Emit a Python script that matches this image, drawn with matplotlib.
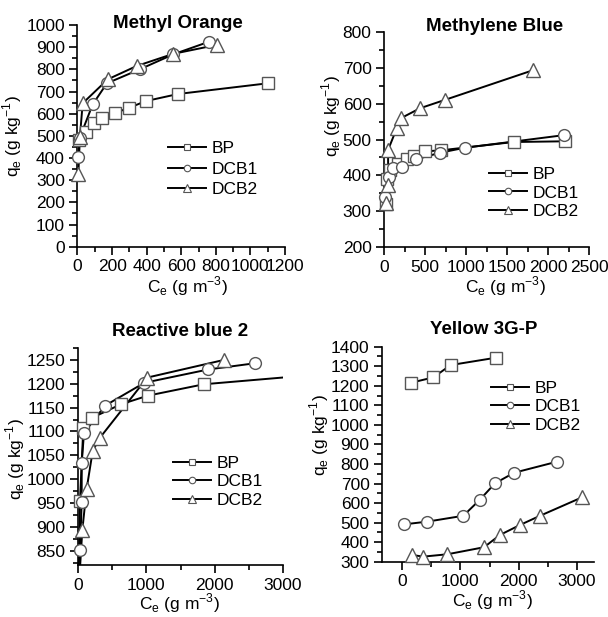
import numpy as np
import matplotlib
matplotlib.use("Agg")
import matplotlib.pyplot as plt
from matplotlib.ticker import MultipleLocator

plt.rcParams['font.family'] = ['Liberation Sans', 'DejaVu Sans']
plt.rcParams['mathtext.fontset'] = 'custom'
plt.rcParams['mathtext.rm'] = 'Liberation Sans'

series_names = ["BP", "DCB1", "DCB2"]

# Methyl Orange
mo_bp_x = [10, 49, 97, 140, 217, 300, 396, 583, 1100]
mo_bp_y = [480, 519, 558, 582, 603, 627, 657, 689, 737]
mo_dcb1_x = [5, 12, 88, 170, 360, 555, 762]
mo_dcb1_y = [406, 490, 642, 737, 800, 868, 925]
mo_dcb2_x = [5, 14, 30, 175, 342, 554, 805]
mo_dcb2_y = [330, 496, 647, 755, 815, 870, 910]

# Methylene Blue
mb_bp_x = [25, 40, 75, 170, 280, 365, 505, 700, 1580, 2210]
mb_bp_y = [320, 390, 415, 432, 445, 455, 467, 470, 493, 495]
mb_dcb1_x = [15, 60, 110, 220, 395, 680, 985, 2190]
mb_dcb1_y = [340, 397, 422, 423, 445, 463, 477, 512]
mb_dcb2_x = [30, 50, 50, 155, 204, 440, 740, 1820]
mb_dcb2_y = [322, 373, 471, 531, 559, 587, 610, 693]

# Reactive blue 2
rb_bp_x = [10, 29, 78, 210, 629, 1020, 1843, 3400]
rb_bp_y = [790, 955, 1108, 1129, 1157, 1175, 1199, 1218]
rb_dcb1_x = [30, 54, 54, 88, 395, 970, 1906, 2589]
rb_dcb1_y = [852, 953, 1034, 1097, 1154, 1202, 1230, 1243]
rb_dcb2_x = [15, 63, 127, 215, 322, 1014, 2136]
rb_dcb2_y = [780, 893, 980, 1059, 1087, 1213, 1250]

# Yellow 3G-P
y3_bp_x = [160, 537, 834, 1617]
y3_bp_y = [1216, 1243, 1306, 1344]
y3_dcb1_x = [34, 434, 1051, 1331, 1594, 1920, 2662]
y3_dcb1_y = [491, 505, 535, 616, 701, 755, 812]
y3_dcb2_x = [177, 366, 777, 1406, 1680, 2023, 2366, 3091]
y3_dcb2_y = [334, 326, 338, 374, 437, 488, 535, 630]

W, H = 608, 617
fig = plt.figure(figsize=(W / 100, H / 100), dpi=100)


def make_axes(left, right, top, bottom):
    return fig.add_axes([left / W, 1 - bottom / H, (right - left) / W, (bottom - top) / H])


markers = ['s', 'o', '^']
msizes = [8, 8.5, 9.5]
FS = 12.5


def draw_panel(ax, data, xlim, ylim, xmaj, xmin, ymaj, ymin, title, title_pos,
               leg_pos, leg_space, ylab_pos, xlab_pos):
    ax.set_xlim(*xlim)
    ax.set_ylim(*ylim)
    for (xs, ys), name, m, ms in zip(data, series_names, markers, msizes):
        xs = np.array(xs, float)
        ys = np.array(ys, float)
        ax.plot(xs, ys, '-', color='black', lw=1.4, zorder=2)
        inside = (xs >= xlim[0]) & (xs <= xlim[1]) & (ys >= ylim[0]) & (ys <= ylim[1])
        ax.plot(xs[inside], ys[inside], linestyle='none', marker=m, ms=ms,
                mfc='white', mec='#555555', mew=1.0, zorder=3, clip_on=False)
        # legend proxy
        ax.plot([], [], '-', color='black', lw=1.4, marker=m, ms=ms * 0.55,
                mfc='white', mec='#555555', mew=0.8, label=name)
    for s in ['top', 'right']:
        ax.spines[s].set_visible(False)
    for s in ['left', 'bottom']:
        ax.spines[s].set_linewidth(1.2)
    ax.xaxis.set_major_locator(MultipleLocator(xmaj))
    ax.xaxis.set_minor_locator(MultipleLocator(xmin))
    ax.yaxis.set_major_locator(MultipleLocator(ymaj))
    ax.yaxis.set_minor_locator(MultipleLocator(ymin))
    ax.tick_params(which='major', direction='out', length=6, width=1.2, labelsize=FS, pad=3)
    ax.tick_params(which='minor', direction='out', length=3.5, width=1.2)
    ax.set_xlabel(r'C$_\mathregular{e}$ (g m$^\mathregular{-3}$)', fontsize=FS)
    ax.set_ylabel(r'q$_\mathregular{e}$ (g kg$^\mathregular{-1}$)', fontsize=FS)
    ax.xaxis.set_label_coords(*xlab_pos)
    ax.xaxis.label.set_va('center')
    ax.yaxis.set_label_coords(*ylab_pos)
    ax.yaxis.label.set_va('center')
    ax.text(title_pos[0], title_pos[1], title, transform=ax.transAxes, ha='center',
            va='center', fontsize=13.5, fontweight='bold')
    ax.legend(loc='center left', bbox_to_anchor=leg_pos, frameon=False, fontsize=FS,
              borderpad=0, borderaxespad=0, handlelength=2.2, handletextpad=0.3,
              labelspacing=leg_space)


ax1 = make_axes(77.5, 285, 25, 246.7)
draw_panel(ax1, [(mo_bp_x, mo_bp_y), (mo_dcb1_x, mo_dcb1_y), (mo_dcb2_x, mo_dcb2_y)],
           (0, 1200), (0, 1000), 200, 100, 100, 50, 'Methyl Orange', (0.484, 1.009),
           (0.436, 0.35), 0.3, (-0.316, 0.5), (0.53, -0.178))

ax2 = make_axes(384, 589, 31.7, 247.3)
draw_panel(ax2, [(mb_bp_x, mb_bp_y), (mb_dcb1_x, mb_dcb1_y), (mb_dcb2_x, mb_dcb2_y)],
           (0, 2500), (200, 800), 500, 250, 100, 50, 'Methylene Blue', (0.537, 1.022),
           (0.512, 0.252), 0.18, (-0.259, 0.61), (0.594, -0.18))

ax3 = make_axes(78, 283, 348, 565)
draw_panel(ax3, [(rb_bp_x, rb_bp_y), (rb_dcb1_x, rb_dcb1_y), (rb_dcb2_x, rb_dcb2_y)],
           (0, 3000), (820, 1275), 1000, 500, 50, 25, 'Reactive blue 2', (0.497, 1.074),
           (0.463, 0.384), 0.2, (-0.307, 0.49), (0.497, -0.175))

ax4 = make_axes(382, 594, 346.7, 561.7)
draw_panel(ax4, [(y3_bp_x, y3_bp_y), (y3_dcb1_x, y3_dcb1_y), (y3_dcb2_x, y3_dcb2_y)],
           (-343, 3291), (300, 1400), 1000, 500, 100, 50, 'Yellow 3G-P', (0.481, 1.078),
           (0.513, 0.721), 0.2, (-0.297, 0.59), (0.52, -0.178))

plt.savefig("out.png", dpi=100)
plt.close()
print("finished")
